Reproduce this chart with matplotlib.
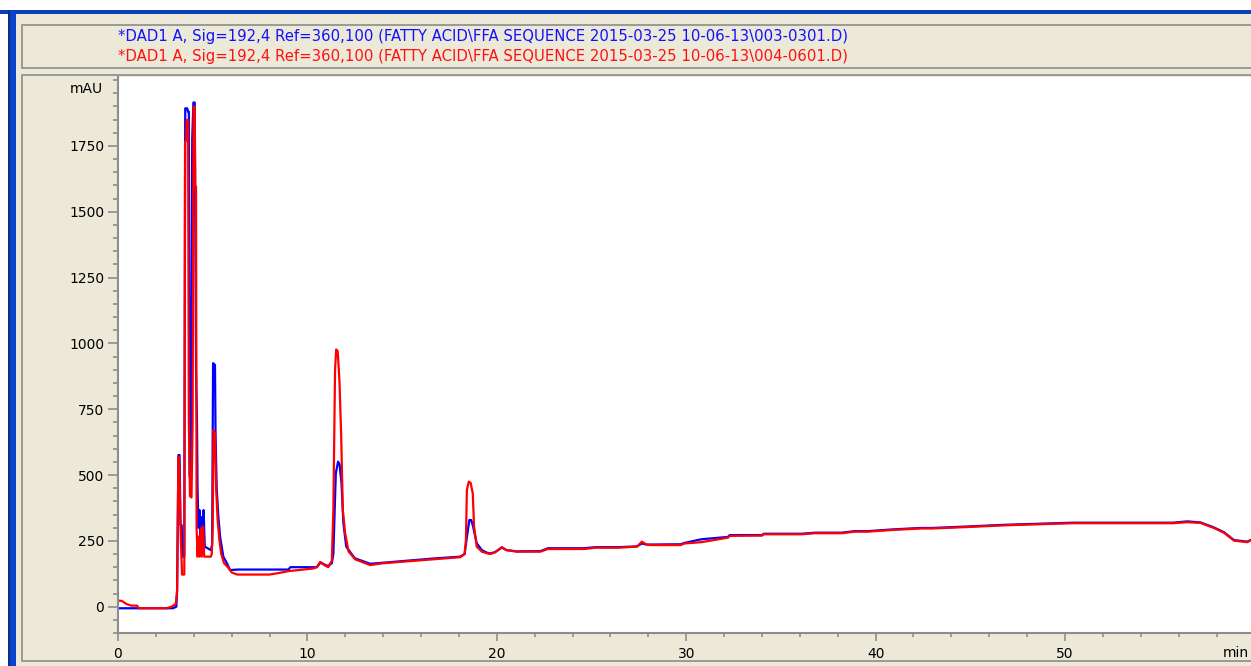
import matplotlib as mpl
mpl.use('Agg')
import matplotlib.pyplot as plt
from matplotlib.patches import Rectangle
from matplotlib.ticker import MultipleLocator

# signal 1 (blue), 003-0301.D
blue_t = [0.0, 2.9, 3.08, 3.12, 3.19, 3.25, 3.3, 3.36, 3.42, 3.5, 3.55, 3.65, 3.7, 3.74,
          3.78, 3.84, 3.92, 3.98, 4.05, 4.12, 4.17, 4.2, 4.25, 4.3, 4.35, 4.42, 4.47, 4.52,
          4.58, 4.9, 4.97, 5.02, 5.12, 5.15, 5.21, 5.3, 5.39, 5.56, 5.75, 5.92, 6.3, 9.0,
          9.1, 10.5, 10.7, 10.95, 11.1, 11.29, 11.37, 11.5, 11.62, 11.7, 11.8, 11.9, 12.05,
          12.5, 13.31, 14.0, 16.66, 18.07, 18.3, 18.45, 18.55, 18.65, 18.75, 18.94, 19.21,
          19.48, 19.65, 19.9, 20.27, 20.5, 21.06, 22.3, 22.7, 24.6, 25.2, 26.4, 27.4, 27.66,
          27.9, 28.1, 29.7, 29.9, 30.8, 32.2, 32.3, 34.0, 34.1, 36.1, 36.8, 38.2, 38.9, 39.6,
          40.8, 41.3, 42.4, 43.0, 45.0, 46.8, 50.4, 55.7, 56.45, 57.16, 57.86, 58.39, 58.92,
          59.62, 59.85]
blue_v = [-6, -6, 0, 60, 576, 576, 310, 310, 190, 190, 1893, 1893, 1880, 1880,
          494, 494, 1780, 1915, 1915, 900, 703, 445, 300, 367, 260, 340, 250, 367,
          228, 215, 235, 925, 918, 656, 450, 340, 266, 190, 165, 139, 141, 141,
          150, 150, 168, 158, 155, 165, 200, 507, 551, 540, 469, 317, 228,
          184, 163, 167, 183, 190, 200, 279, 329, 329, 304, 241, 215,
          205, 202, 207, 225, 215, 210, 211, 222, 222, 226, 226, 229, 240,
          236, 236, 237, 242, 256, 265, 272, 272, 277, 277, 281, 281, 287, 287,
          293, 295, 299, 299, 305, 311, 319, 319, 324, 320, 301, 283, 253,
          247, 255]

# signal 2 (red), 004-0601.D
red_t = [0.0, 0.2, 0.45, 0.7, 1.0, 1.1, 2.57, 2.83, 3.05, 3.12, 3.19, 3.24, 3.3, 3.38,
         3.5, 3.54, 3.6, 3.62, 3.7, 3.74, 3.8, 3.88, 3.94, 3.99, 4.05, 4.08, 4.12, 4.15,
         4.2, 4.25, 4.3, 4.37, 4.42, 4.5, 4.55, 4.9, 4.95, 5.0, 5.04, 5.12, 5.18, 5.26,
         5.35, 5.45, 5.6, 5.8, 6.0, 6.3, 8.0, 8.5, 9.0, 10.3, 10.5, 10.67, 10.85, 11.1,
         11.29, 11.37, 11.46, 11.52, 11.6, 11.69, 11.78, 11.87, 11.99, 12.17, 12.52, 13.31,
         14.0, 16.66, 18.07, 18.3, 18.37, 18.42, 18.52, 18.62, 18.73, 18.8, 18.94, 19.21,
         19.48, 19.65, 19.9, 20.27, 20.5, 21.06, 22.3, 22.7, 24.6, 25.2, 26.4, 27.4, 27.66,
         27.9, 28.1, 29.7, 29.9, 30.8, 32.2, 32.3, 34.0, 34.1, 36.1, 36.8, 38.2, 38.9, 39.6,
         40.8, 41.3, 42.4, 43.0, 45.0, 46.8, 50.4, 55.7, 56.45, 57.16, 57.86, 58.39, 58.92,
         59.62, 59.85]
red_v = [23, 22, 10, 4, 4, -6, -6, 0, 10, 60, 570, 540, 300, 122,
         122, 1766, 1770, 1849, 1849, 700, 420, 415, 700, 1900, 1900, 1595, 1595, 298,
         190, 266, 190, 300, 190, 305, 190, 190, 200, 300, 672, 660, 450, 330,
         255, 200, 165, 150, 130, 122, 122, 128, 135, 145, 150, 170, 160, 150,
         175, 367, 899, 977, 970, 861, 659, 367, 280, 210, 180, 158,
         165, 180, 188, 200, 253, 443, 475, 470, 431, 304, 228, 209,
         203, 200, 206, 226, 215, 209, 209, 219, 219, 224, 224, 228, 247,
         236, 234, 234, 240, 245, 262, 269, 270, 275, 275, 279, 279, 285, 285,
         291, 293, 297, 297, 303, 309, 317, 317, 321, 318, 299, 281, 251,
         245, 254]

title_blue = r"*DAD1 A, Sig=192,4 Ref=360,100 (FATTY ACID\FFA SEQUENCE 2015-03-25 10-06-13\003-0301.D)"
title_red = r"*DAD1 A, Sig=192,4 Ref=360,100 (FATTY ACID\FFA SEQUENCE 2015-03-25 10-06-13\004-0601.D)"

W, H = 1251, 666
BEIGE = '#ECE9D8'
GREY = '#8C8C8C'

fig = plt.figure(figsize=(W / 100, H / 100), dpi=100, facecolor='white')


def px_rect(x0, y0, x1, y1, **kw):
    # rectangle given in pixel coords (origin top-left), kept behind the axes
    r = Rectangle((x0 / W, 1 - y1 / H), (x1 - x0) / W, (y1 - y0) / H,
                  transform=fig.transFigure, zorder=-5, **kw)
    fig.add_artist(r)


# window frame
px_rect(0, 10, W, 14, facecolor='#0A3FB8', edgecolor='none')
px_rect(8, 10, 16, H, facecolor='#0B44C8', edgecolor='none')
px_rect(8, 10, 10, H, facecolor='#0A2C8C', edgecolor='none')
px_rect(16, 14, W, H, facecolor=BEIGE, edgecolor='none')
# header box and plot panel
px_rect(22, 25, W + 5, 68, facecolor=BEIGE, edgecolor=GREY, linewidth=1.2)
px_rect(22, 75, W + 5, 661, facecolor=BEIGE, edgecolor=GREY, linewidth=1.2)

fig.text(118 / W, 1 - 37 / H, title_blue, color='#1010FF', fontsize=10.7,
         ha='left', va='center')
fig.text(118 / W, 1 - 57 / H, title_red, color='#FF1010', fontsize=10.7,
         ha='left', va='center')

ax = fig.add_axes([118 / W, 1 - 633 / H, (W - 118) / W, (633 - 77) / H])
ax.set_facecolor('white')
ax.plot(blue_t, blue_v, color='#0000FF', linewidth=1.6)
ax.plot(red_t, red_v, color='#FF0000', linewidth=1.6)

ax.set_xlim(0, 59.82)
ax.set_ylim(-100, 2012)

for s in ['top', 'right']:
    ax.spines[s].set_visible(False)
for s in ['left', 'bottom']:
    ax.spines[s].set_color(GREY)
    ax.spines[s].set_linewidth(1.5)

ax.xaxis.set_major_locator(MultipleLocator(10))
ax.xaxis.set_minor_locator(MultipleLocator(2))
ax.yaxis.set_major_locator(MultipleLocator(250))
ax.yaxis.set_minor_locator(MultipleLocator(50))
ax.set_yticks([0, 250, 500, 750, 1000, 1250, 1500, 1750])
ax.tick_params(axis='x', which='major', length=6, width=1.2, color=GREY,
               labelsize=10, pad=4)
ax.tick_params(axis='x', which='minor', length=3, width=1.2, color=GREY)
ax.tick_params(axis='y', which='major', length=7, width=1.2, color=GREY,
               labelsize=10, pad=3)
ax.tick_params(axis='y', which='minor', length=3.5, width=1.2, color=GREY)

fig.text(103 / W, 1 - 89 / H, 'mAU', fontsize=10, ha='right', va='center')
fig.text(1249 / W, 1 - 653 / H, 'min', fontsize=10, ha='right', va='center')

fig.savefig('out.png', dpi=100, facecolor=fig.get_facecolor())
